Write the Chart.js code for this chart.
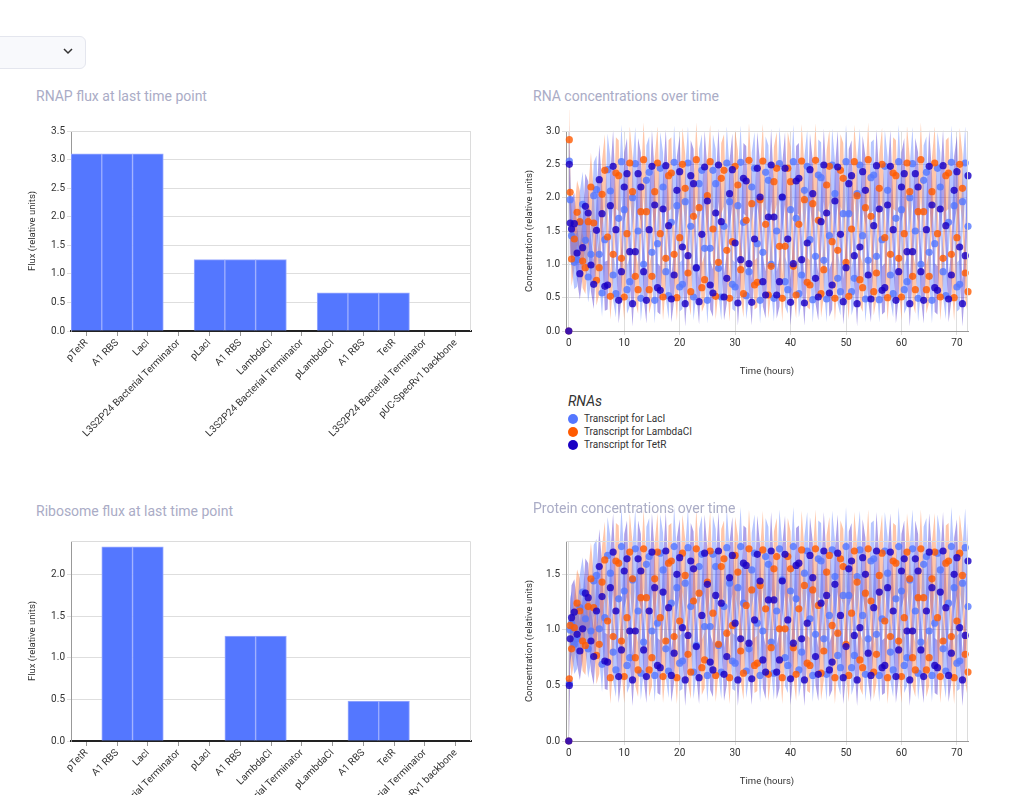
<!DOCTYPE html>
<html>
<head>
<meta charset="utf-8">
<script src="https://cdn.jsdelivr.net/npm/chart.js@4.4.1/dist/chart.umd.min.js"></script>
<style>
  html, body { margin: 0; padding: 0; background: #fff; width: 1027px; height: 795px; overflow: hidden; font-family: Roboto, sans-serif; }
  canvas { position: absolute; }
  .title { position: absolute; font-size: 14px; line-height: 16px; color: #aaacc6; white-space: nowrap; z-index: 2; }
  .picker { position: absolute; left: -12px; top: 36px; width: 96px; height: 31px; border: 1px solid #e4e6ee; border-radius: 6px; background: #f8f9fc; }
  .picker svg { position: absolute; left: 74px; top: 11px; }
  .legend { position: absolute; left: 568px; top: 392px; color: #333; }
  .legend .head { font-size: 14px; font-style: italic; line-height: 18px; margin-bottom: 2px; }
  .legend .item { font-size: 10px; line-height: 13px; height: 13px; white-space: nowrap; }
  .legend .dot { display: inline-block; width: 10px; height: 10px; border-radius: 50%; vertical-align: -2px; margin-right: 6px; }
</style>
</head>
<body>

<div class="picker"><svg width="10" height="7" viewBox="0 0 10 7"><polyline points="1,1 5,5 9,1" fill="none" stroke="#333" stroke-width="1.5"/></svg></div>

<div class="title" style="left:36px; top:88px;">RNAP flux at last time point</div>
<div class="title" style="left:533px; top:88px;">RNA concentrations over time</div>
<div class="title" style="left:36px; top:503px;">Ribosome flux at last time point</div>
<div class="title" style="left:533px; top:500px;">Protein concentrations over time</div>

<canvas id="rnapChart" width="460" height="330" style="left:20px; top:120px;"></canvas>
<canvas id="rnaChart" width="465" height="271" style="left:515px; top:110px;"></canvas>
<canvas id="riboChart" width="460" height="330" style="left:20px; top:530px;"></canvas>
<canvas id="protChart" width="465" height="291" style="left:515px; top:500px;"></canvas>

<div class="legend" id="rnaLegend"></div>

<script>
// ---- bar data ----
const parts = ['pTetR', 'A1 RBS', 'LacI', 'L3S2P24 Bacterial Terminator',
               'pLacI', 'A1 RBS', 'LambdaCI', 'L3S2P24 Bacterial Terminator',
               'pLambdaCI', 'A1 RBS', 'TetR', 'L3S2P24 Bacterial Terminator',
               'pUC-SpecRv1 backbone'];
const rnapFlux = [3.1, 3.1, 3.1, 0, 1.25, 1.25, 1.25, 0, 0.67, 0.67, 0.67, 0, 0];
const riboFlux = [0, 2.33, 2.33, 0, 0, 1.26, 1.26, 0, 0, 0.48, 0.48, 0, 0];
const rnapTicks = [0, 0.5, 1, 1.5, 2, 2.5, 3, 3.5];
const riboTicks = [0, 0.5, 1, 1.5, 2];

// ---- time series data ----
const hours = [0, 0.1, 0.25,
  0.5, 1, 1.5, 2, 2.5, 3, 3.5, 4, 4.5, 5,
  5.5, 6, 6.5, 7, 7.5, 8, 8.5, 9, 9.5, 10,
  10.5, 11, 11.5, 12, 12.5, 13, 13.5, 14, 14.5, 15,
  15.5, 16, 16.5, 17, 17.5, 18, 18.5, 19, 19.5, 20,
  20.5, 21, 21.5, 22, 22.5, 23, 23.5, 24, 24.5, 25,
  25.5, 26, 26.5, 27, 27.5, 28, 28.5, 29, 29.5, 30,
  30.5, 31, 31.5, 32, 32.5, 33, 33.5, 34, 34.5, 35,
  35.5, 36, 36.5, 37, 37.5, 38, 38.5, 39, 39.5, 40,
  40.5, 41, 41.5, 42, 42.5, 43, 43.5, 44, 44.5, 45,
  45.5, 46, 46.5, 47, 47.5, 48, 48.5, 49, 49.5, 50,
  50.5, 51, 51.5, 52, 52.5, 53, 53.5, 54, 54.5, 55,
  55.5, 56, 56.5, 57, 57.5, 58, 58.5, 59, 59.5, 60,
  60.5, 61, 61.5, 62, 62.5, 63, 63.5, 64, 64.5, 65,
  65.5, 66, 66.5, 67, 67.5, 68, 68.5, 69, 69.5, 70,
  70.5, 71, 71.5, 72];
const timeTicks = [0, 10, 20, 30, 40, 50, 60, 70];
const rnaTicks = [0, 0.5, 1, 1.5, 2, 2.5, 3];
const protTicks = [0, 0.5, 1, 1.5];

const rnaLacI = [0, 2.55, 1.97,
  1.43, 1.03, 1.07, 1.63, 1.90, 1.36, 0.81, 1.15, 2.03, 2.12,
  1.15, 0.57, 1.37, 2.42, 2.10, 0.84, 0.56, 1.69, 2.54, 1.82,
  0.62, 0.74, 2.00, 2.51, 1.50, 0.49, 1.00, 2.26, 2.38, 1.18,
  0.46, 1.31, 2.44, 2.16, 0.89, 0.53, 1.63, 2.53, 1.88, 0.66,
  0.70, 1.94, 2.52, 1.57, 0.51, 0.94, 2.21, 2.41, 1.24, 0.46,
  1.24, 2.41, 2.21, 0.94, 0.51, 1.57, 2.52, 1.94, 0.70, 0.66,
  1.88, 2.53, 1.63, 0.53, 0.89, 2.16, 2.44, 1.31, 0.46, 1.18,
  2.38, 2.26, 1.00, 0.49, 1.50, 2.51, 2.00, 0.74, 0.62, 1.82,
  2.54, 1.69, 0.56, 0.84, 2.11, 2.47, 1.37, 0.47, 1.12, 2.34,
  2.30, 1.06, 0.48, 1.43, 2.49, 2.06, 0.79, 0.59, 1.76, 2.54,
  1.76, 0.59, 0.79, 2.06, 2.49, 1.43, 0.48, 1.06, 2.30, 2.34,
  1.12, 0.47, 1.37, 2.47, 2.11, 0.84, 0.56, 1.69, 2.54, 1.82,
  0.62, 0.74, 2.00, 2.51, 1.50, 0.49, 1.00, 2.26, 2.38, 1.18,
  0.46, 1.31, 2.44, 2.16, 0.89, 0.53, 1.63, 2.53, 1.88, 0.66,
  0.70, 1.94, 2.52, 1.57];
const rnaLambdaCI = [0, 2.87, 2.08,
  1.08, 1.38, 1.78, 1.64, 1.05, 0.95, 1.64, 2.16, 1.62, 0.76,
  0.95, 2.05, 2.41, 1.41, 0.52, 1.15, 2.37, 2.33, 1.09, 0.51,
  1.46, 2.52, 2.09, 0.82, 0.62, 1.79, 2.57, 1.79, 0.62, 0.82,
  2.09, 2.52, 1.46, 0.51, 1.09, 2.33, 2.37, 1.15, 0.50, 1.40,
  2.50, 2.14, 0.87, 0.59, 1.72, 2.57, 1.85, 0.65, 0.77, 2.03,
  2.54, 1.53, 0.52, 1.03, 2.29, 2.41, 1.21, 0.49, 1.34, 2.47,
  2.19, 0.92, 0.56, 1.66, 2.56, 1.91, 0.69, 0.73, 1.97, 2.55,
  1.60, 0.54, 0.97, 2.24, 2.44, 1.27, 0.49, 1.27, 2.44, 2.24,
  0.97, 0.54, 1.60, 2.55, 1.97, 0.73, 0.69, 1.91, 2.56, 1.66,
  0.56, 0.92, 2.19, 2.47, 1.34, 0.49, 1.21, 2.41, 2.29, 1.03,
  0.52, 1.53, 2.54, 2.03, 0.77, 0.65, 1.85, 2.57, 1.72, 0.59,
  0.87, 2.14, 2.50, 1.40, 0.50, 1.15, 2.37, 2.33, 1.09, 0.51,
  1.46, 2.52, 2.09, 0.82, 0.62, 1.79, 2.57, 1.79, 0.62, 0.82,
  2.09, 2.52, 1.46, 0.51, 1.09, 2.33, 2.37, 1.15, 0.50, 1.40,
  2.50, 2.14, 0.87, 0.59];
const rnaTetR = [0, 2.50, 1.62,
  1.53, 1.61, 1.17, 0.86, 1.25, 1.87, 1.77, 0.99, 0.70, 1.51,
  2.27, 1.76, 0.67, 0.69, 1.88, 2.47, 1.52, 0.46, 0.89, 2.16,
  2.36, 1.19, 0.41, 1.19, 2.36, 2.16, 0.89, 0.46, 1.52, 2.47,
  1.89, 0.65, 0.61, 1.83, 2.48, 1.58, 0.48, 0.84, 2.11, 2.39,
  1.26, 0.41, 1.13, 2.33, 2.21, 0.95, 0.44, 1.45, 2.46, 1.95,
  0.69, 0.57, 1.77, 2.49, 1.64, 0.51, 0.79, 2.06, 2.42, 1.32,
  0.42, 1.07, 2.29, 2.25, 1.01, 0.43, 1.38, 2.44, 2.01, 0.74,
  0.54, 1.71, 2.49, 1.71, 0.54, 0.74, 2.01, 2.44, 1.38, 0.43,
  1.01, 2.25, 2.29, 1.07, 0.42, 1.32, 2.42, 2.06, 0.79, 0.51,
  1.64, 2.49, 1.77, 0.57, 0.69, 1.95, 2.46, 1.45, 0.44, 0.95,
  2.21, 2.33, 1.13, 0.41, 1.26, 2.39, 2.11, 0.84, 0.48, 1.58,
  2.48, 1.83, 0.61, 0.65, 1.89, 2.47, 1.52, 0.46, 0.89, 2.16,
  2.36, 1.19, 0.41, 1.19, 2.36, 2.16, 0.89, 0.46, 1.52, 2.47,
  1.89, 0.65, 0.61, 1.83, 2.48, 1.58, 0.48, 0.84, 2.11, 2.39,
  1.26, 0.41, 1.13, 2.33];

const protLacI = [0, 0.52, 1.00,
  1.06, 0.87, 0.92, 1.20, 1.34, 1.10, 0.83, 0.99, 1.44, 1.49,
  1.01, 0.69, 1.11, 1.67, 1.51, 0.80, 0.64, 1.28, 1.75, 1.35,
  0.68, 0.75, 1.45, 1.73, 1.17, 0.61, 0.89, 1.59, 1.66, 0.99,
  0.59, 1.06, 1.69, 1.54, 0.83, 0.63, 1.24, 1.75, 1.38, 0.70,
  0.72, 1.42, 1.74, 1.21, 0.62, 0.86, 1.57, 1.68, 1.03, 0.59,
  1.03, 1.68, 1.57, 0.86, 0.62, 1.21, 1.74, 1.42, 0.72, 0.70,
  1.38, 1.75, 1.24, 0.63, 0.83, 1.54, 1.69, 1.06, 0.59, 0.99,
  1.66, 1.59, 0.89, 0.61, 1.17, 1.73, 1.45, 0.75, 0.68, 1.35,
  1.75, 1.28, 0.64, 0.80, 1.51, 1.71, 1.10, 0.59, 0.96, 1.64,
  1.62, 0.92, 0.60, 1.13, 1.72, 1.48, 0.77, 0.66, 1.31, 1.75,
  1.31, 0.66, 0.77, 1.48, 1.72, 1.13, 0.60, 0.92, 1.62, 1.64,
  0.96, 0.59, 1.10, 1.71, 1.51, 0.80, 0.64, 1.28, 1.75, 1.35,
  0.68, 0.75, 1.45, 1.73, 1.17, 0.61, 0.89, 1.59, 1.66, 0.99,
  0.59, 1.06, 1.69, 1.54, 0.83, 0.63, 1.24, 1.75, 1.38, 0.70,
  0.72, 1.42, 1.74, 1.21];
const protLambdaCI = [0, 0.56, 1.04,
  0.83, 1.02, 1.24, 1.17, 0.90, 0.86, 1.21, 1.46, 1.20, 0.77,
  0.87, 1.43, 1.63, 1.08, 0.57, 0.94, 1.62, 1.60, 0.90, 0.58,
  1.11, 1.70, 1.46, 0.75, 0.64, 1.29, 1.73, 1.29, 0.64, 0.75,
  1.46, 1.70, 1.11, 0.58, 0.90, 1.60, 1.62, 0.94, 0.57, 1.08,
  1.69, 1.49, 0.78, 0.62, 1.26, 1.73, 1.33, 0.66, 0.73, 1.43,
  1.71, 1.15, 0.59, 0.87, 1.57, 1.64, 0.97, 0.57, 1.04, 1.67,
  1.52, 0.81, 0.61, 1.22, 1.73, 1.36, 0.68, 0.70, 1.40, 1.72,
  1.19, 0.60, 0.84, 1.55, 1.66, 1.01, 0.57, 1.01, 1.66, 1.55,
  0.84, 0.60, 1.19, 1.72, 1.40, 0.70, 0.68, 1.36, 1.73, 1.22,
  0.61, 0.81, 1.52, 1.67, 1.04, 0.57, 0.97, 1.64, 1.57, 0.87,
  0.59, 1.15, 1.71, 1.43, 0.73, 0.66, 1.33, 1.73, 1.26, 0.62,
  0.78, 1.49, 1.69, 1.08, 0.57, 0.94, 1.62, 1.60, 0.90, 0.58,
  1.11, 1.70, 1.46, 0.75, 0.64, 1.29, 1.73, 1.29, 0.64, 0.75,
  1.46, 1.70, 1.11, 0.58, 0.90, 1.60, 1.62, 0.94, 0.57, 1.08,
  1.69, 1.49, 0.78, 0.62];
const protTetR = [0, 0.50, 0.92,
  1.11, 1.16, 0.96, 0.81, 1.01, 1.33, 1.29, 0.90, 0.76, 1.17,
  1.57, 1.30, 0.72, 0.71, 1.38, 1.70, 1.17, 0.58, 0.82, 1.53,
  1.64, 0.99, 0.55, 0.99, 1.64, 1.53, 0.82, 0.58, 1.17, 1.70,
  1.38, 0.68, 0.66, 1.34, 1.71, 1.20, 0.59, 0.79, 1.50, 1.65,
  1.02, 0.55, 0.95, 1.62, 1.55, 0.85, 0.57, 1.13, 1.69, 1.41,
  0.71, 0.64, 1.31, 1.71, 1.24, 0.60, 0.76, 1.47, 1.67, 1.06,
  0.55, 0.92, 1.60, 1.58, 0.88, 0.56, 1.09, 1.68, 1.44, 0.73,
  0.62, 1.27, 1.71, 1.27, 0.62, 0.73, 1.44, 1.68, 1.09, 0.56,
  0.88, 1.58, 1.60, 0.92, 0.55, 1.06, 1.67, 1.47, 0.76, 0.60,
  1.24, 1.71, 1.31, 0.64, 0.71, 1.41, 1.69, 1.13, 0.57, 0.85,
  1.55, 1.62, 0.95, 0.55, 1.02, 1.65, 1.50, 0.79, 0.59, 1.20,
  1.71, 1.34, 0.66, 0.68, 1.38, 1.70, 1.17, 0.58, 0.82, 1.53,
  1.64, 0.99, 0.55, 0.99, 1.64, 1.53, 0.82, 0.58, 1.17, 1.70,
  1.38, 0.68, 0.66, 1.34, 1.71, 1.20, 0.59, 0.79, 1.50, 1.65,
  1.02, 0.55, 0.95, 1.62];

// spread of the shaded band around each point (relative part, absolute part)
const rnaSpread = [0.1, 0.3];
const protSpread = [0.1, 0.18];

const seriesNames = ['Transcript for LacI', 'Transcript for LambdaCI', 'Transcript for TetR'];
const dotColors = ['rgba(84,119,255,0.8)', 'rgba(255,90,0,0.8)', 'rgba(26,0,196,0.82)'];
const bandColors = ['rgba(84,119,255,0.42)', 'rgba(255,120,50,0.42)', 'rgba(50,20,200,0.4)'];
const legendColors = ['#5477ff', '#ff5a00', '#1a00c4'];

Chart.defaults.font.family = 'Roboto, sans-serif';
Chart.defaults.color = '#333';

// light border on the top and right of the plot area
const frame = {
  id: 'frame',
  afterDraw(chart) {
    const a = chart.chartArea, ctx = chart.ctx;
    ctx.save();
    ctx.strokeStyle = '#dcdcdc';
    ctx.lineWidth = 1;
    ctx.beginPath();
    ctx.moveTo(a.left, a.top + 0.5);
    ctx.lineTo(a.right - 0.5, a.top + 0.5);
    ctx.lineTo(a.right - 0.5, a.bottom);
    ctx.stroke();
    ctx.restore();
  }
};

// let the shaded bands poke out above the plot like in the original
const bandRoom = {
  id: 'bandRoom',
  beforeDatasetsDraw(chart, args, opts) {
    if (!opts.top) return;
    chart.$keepArea = chart.chartArea;
    chart.chartArea = Object.assign({}, chart.chartArea, { top: chart.chartArea.top - opts.top });
  },
  afterDatasetsDraw(chart) {
    if (chart.$keepArea) {
      chart.chartArea = chart.$keepArea;
      chart.$keepArea = null;
    }
  }
};

function barChart(id, values, yMax, yTicks) {
  new Chart(document.getElementById(id), {
    type: 'bar',
    data: {
      labels: parts,
      datasets: [{
        data: values,
        backgroundColor: '#5477ff',
        borderColor: '#9cadff',
        borderWidth: 1,
        barPercentage: 1,
        categoryPercentage: 1
      }]
    },
    options: {
      responsive: false,
      animation: false,
      devicePixelRatio: 1,
      events: [],
      layout: { padding: { top: 11, right: 9, left: 3, bottom: 0 } },
      plugins: { legend: { display: false }, tooltip: { enabled: false } },
      scales: {
        x: {
          grid: { display: true, drawOnChartArea: false, offset: false, tickLength: 5, color: '#999' },
          border: { color: '#222', width: 2 },
          ticks: { autoSkip: false, maxRotation: 45, minRotation: 45, padding: 1, color: '#333', font: { size: 10 } },
          afterFit: s => { s.height = 119; }
        },
        y: {
          min: 0,
          max: yMax,
          afterBuildTicks: s => { s.ticks = yTicks.map(v => ({ value: v })); },
          grid: { color: '#dedede', tickLength: 4 },
          border: { color: '#999' },
          ticks: { padding: 2, color: '#333', font: { size: 10 }, callback: v => v.toFixed(1) },
          title: { display: true, text: 'Flux (relative units)', color: '#333', font: { size: 9.5 }, padding: 4 },
          afterFit: s => { s.width = 48; }
        }
      }
    },
    plugins: [frame]
  });
}

function timeChart(id, series, spread, yMax, yTicks, padTop) {
  const pts = vals => vals.map((v, i) => ({ x: hours[i], y: v }));
  const edge = (vals, sign) => vals.map((v, i) => ({ x: hours[i], y: v + sign * (v * spread[0] + spread[1]) }));
  const room = { left: 0, top: 40, right: 0, bottom: 0 };
  const datasets = [];
  // dots, TetR drawn on top
  [2, 1, 0].forEach(k => {
    datasets.push({
      label: seriesNames[k],
      data: pts(series[k]),
      showLine: false,
      pointRadius: 3.6,
      pointBorderWidth: 0,
      pointBackgroundColor: dotColors[k],
      clip: false,
      order: 0
    });
  });
  // shaded bands
  [0, 1, 2].forEach(k => {
    datasets.push({
      data: edge(series[k], 1),
      pointRadius: 0, borderWidth: 0, borderColor: 'rgba(0,0,0,0)',
      tension: 0, fill: false, order: 1, clip: room
    });
    datasets.push({
      data: edge(series[k], -1),
      pointRadius: 0, borderWidth: 0, borderColor: 'rgba(0,0,0,0)',
      tension: 0, fill: '-1', backgroundColor: bandColors[k], order: 1, clip: room
    });
  });

  new Chart(document.getElementById(id), {
    type: 'line',
    data: { datasets },
    options: {
      responsive: false,
      animation: false,
      devicePixelRatio: 1,
      events: [],
      layout: { padding: { top: padTop, right: 12, left: 5, bottom: 0 } },
      plugins: {
        legend: { display: false },
        tooltip: { enabled: false },
        bandRoom: { top: 40 }
      },
      scales: {
        x: {
          type: 'linear',
          min: -0.5,
          max: 72,
          afterBuildTicks: s => { s.ticks = timeTicks.map(v => ({ value: v })); },
          grid: { color: '#dedede', tickLength: 4 },
          border: { color: '#999' },
          ticks: { padding: 2, color: '#333', font: { size: 10 } },
          title: { display: true, text: 'Time (hours)', color: '#333', font: { size: 9.5 }, padding: 4 },
          afterFit: s => { s.height = 50; }
        },
        y: {
          min: 0,
          max: yMax,
          afterBuildTicks: s => { s.ticks = yTicks.map(v => ({ value: v })); },
          grid: { color: '#dedede', tickLength: 4 },
          border: { color: '#999' },
          ticks: { padding: 2, color: '#333', font: { size: 10 }, callback: v => v.toFixed(1) },
          title: { display: true, text: 'Concentration (relative units)', color: '#333', font: { size: 9.5 }, padding: 4 },
          afterFit: s => { s.width = 46; }
        }
      }
    },
    plugins: [bandRoom, frame]
  });
}

barChart('rnapChart', rnapFlux, 3.5, rnapTicks);
barChart('riboChart', riboFlux, 2.4, riboTicks);
timeChart('rnaChart', [rnaLacI, rnaLambdaCI, rnaTetR], rnaSpread, 3.0, rnaTicks, 21);
timeChart('protChart', [protLacI, protLambdaCI, protTetR], protSpread, 1.8, protTicks, 41);

// legend under the RNA chart
const legend = document.getElementById('rnaLegend');
let html = '<div class="head">RNAs</div>';
seriesNames.forEach((name, k) => {
  html += '<div class="item"><span class="dot" style="background:' + legendColors[k] + '"></span>' + name + '</div>';
});
legend.innerHTML = html;
</script>
</body>
</html>
